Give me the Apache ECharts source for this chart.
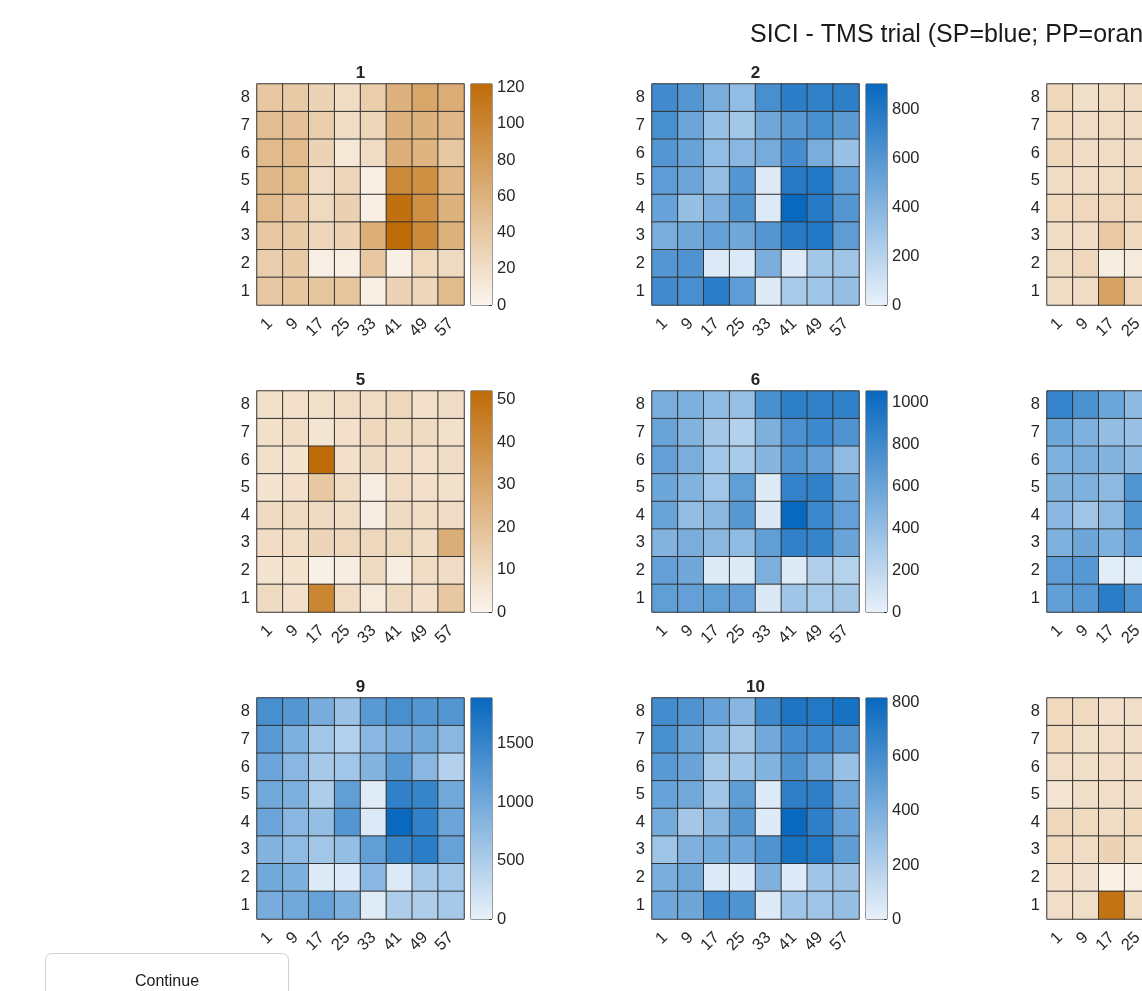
<html>
<head>
<meta charset="utf-8">
<title>SICI - TMS trial</title>
<script src="https://cdn.jsdelivr.net/npm/echarts@6/dist/echarts.min.js"></script>
<style>
  body { margin: 0; background: #fff; overflow: hidden; }
  #main { width: 1420px; height: 991px; }
</style>
</head>
<body>
<div id="main"></div>
<script type="text/javascript">
var xLabels = ['1', '9', '17', '25', '33', '41', '49', '57'];
var yLabels = ['1', '2', '3', '4', '5', '6', '7', '8'];

// rows written top (8) to bottom (1), columns 1..57
var panel1 = [
  [40, 38, 30, 22, 35, 60, 70, 65],
  [50, 45, 35, 22, 28, 60, 60, 55],
  [52, 52, 30, 12, 22, 62, 58, 40],
  [55, 50, 22, 28, 5, 95, 90, 55],
  [52, 40, 25, 32, 6, 118, 90, 60],
  [40, 38, 28, 30, 62, 122, 95, 60],
  [35, 38, 6, 6, 40, 5, 25, 25],
  [40, 42, 42, 42, 6, 30, 28, 52]
];
var panel2 = [
  [680, 600, 450, 350, 650, 760, 740, 750],
  [650, 500, 320, 280, 480, 580, 650, 570],
  [600, 520, 350, 380, 460, 660, 450, 320],
  [560, 500, 330, 600, 40, 780, 800, 550],
  [520, 330, 420, 620, 50, 900, 780, 600],
  [450, 480, 530, 480, 600, 780, 800, 560],
  [600, 620, 50, 50, 440, 50, 280, 300],
  [680, 650, 760, 560, 40, 260, 300, 330]
];
var panel3 = [
  [11, 8, 9, 9, 10, 12, 11, 10],
  [10, 9, 9, 9, 11, 10, 10, 9],
  [11, 9, 9, 9, 10, 11, 10, 10],
  [9, 9, 9, 11, 6, 12, 11, 10],
  [10, 11, 11, 11, 6, 13, 12, 10],
  [9, 9, 16, 10, 11, 12, 11, 14],
  [9, 11, 3, 4, 10, 4, 9, 10],
  [9, 9, 30, 11, 5, 10, 9, 13]
];
var panel5 = [
  [8, 8, 8, 9, 9, 11, 8, 9],
  [8, 9, 6, 8, 11, 10, 10, 8],
  [8, 7, 52, 8, 10, 9, 8, 9],
  [7, 8, 17, 9, 3, 9, 8, 8],
  [10, 10, 10, 9, 3, 10, 9, 9],
  [9, 9, 12, 11, 11, 11, 9, 27],
  [7, 7, 2, 3, 10, 3, 9, 9],
  [10, 8, 42, 9, 4, 10, 8, 17]
];
var panel6 = [
  [520, 500, 420, 380, 750, 880, 860, 860],
  [600, 480, 320, 250, 500, 740, 800, 720],
  [620, 520, 330, 300, 460, 700, 620, 420],
  [580, 480, 330, 640, 50, 850, 860, 580],
  [600, 400, 440, 680, 60, 1050, 820, 620],
  [480, 520, 440, 420, 640, 860, 840, 600],
  [620, 560, 50, 50, 500, 50, 260, 240],
  [640, 620, 640, 620, 60, 340, 300, 320]
];
var panel7 = [
  [800, 700, 550, 400, 650, 750, 720, 740],
  [550, 470, 380, 350, 480, 600, 620, 560],
  [470, 500, 450, 400, 460, 650, 480, 380],
  [460, 470, 400, 680, 60, 800, 780, 560],
  [420, 320, 400, 680, 60, 950, 760, 580],
  [470, 550, 470, 600, 620, 780, 800, 560],
  [620, 650, 30, 30, 450, 40, 300, 320],
  [600, 650, 850, 700, 50, 300, 320, 340]
];
var panel9 = [
  [1350, 1250, 950, 650, 1200, 1350, 1250, 1250],
  [1200, 900, 600, 450, 800, 950, 1000, 800],
  [1050, 800, 550, 600, 850, 1200, 800, 450],
  [1000, 900, 500, 1150, 80, 1550, 1500, 1000],
  [1050, 800, 700, 1250, 100, 1880, 1550, 1050],
  [850, 750, 600, 700, 1150, 1500, 1600, 1100],
  [1000, 900, 100, 100, 800, 100, 550, 600],
  [950, 1000, 1100, 900, 80, 500, 500, 550]
];
var panel10 = [
  [600, 560, 470, 350, 620, 740, 720, 760],
  [580, 470, 330, 250, 430, 600, 620, 560],
  [520, 460, 240, 260, 370, 560, 430, 290],
  [470, 430, 260, 500, 40, 680, 680, 440],
  [420, 250, 340, 530, 40, 815, 680, 470],
  [270, 380, 420, 440, 560, 760, 720, 500],
  [400, 440, 40, 40, 380, 40, 260, 280],
  [440, 450, 600, 560, 40, 260, 270, 300]
];
var panel11 = [
  [12, 12, 9, 10, 11, 13, 12, 11],
  [12, 10, 10, 10, 11, 11, 11, 10],
  [10, 10, 10, 10, 10, 12, 10, 10],
  [7, 10, 10, 10, 6, 12, 11, 10],
  [13, 12, 11, 12, 6, 13, 12, 11],
  [12, 11, 15, 11, 12, 12, 11, 15],
  [9, 9, 2, 3, 10, 3, 9, 10],
  [10, 10, 57, 11, 5, 10, 9, 14]
];

var panels = [panel1, panel2, panel3, panel5, panel6, panel7, panel9, panel10, panel11];
var panelTitles = ['1', '2', '3', '5', '6', '7', '9', '10', '11'];
var panelMax = [122, 905, 50, 52, 1055, 1000, 1890, 818, 60];
var tickStep = [20, 200, 10, 10, 200, 200, 500, 200, 10];
var panelKind = ['PP', 'SP', 'PP', 'PP', 'SP', 'SP', 'SP', 'SP', 'PP'];

var ppColors = ['#FBF5EE', '#BF6C08'];
var spColors = ['#E8F1FA', '#0868BE'];

var colLeft = [257, 652, 1047];
var rowTop = [84, 391, 698];
var plotW = 207, plotH = 221;
var cbGap = 214, cbW = 21;
var txt = '#262626';
var fontName = 'Liberation Sans';
var fs = 16.5;

var myChart = echarts.init(document.getElementById('main'));

var grid = [], xAxis = [], yAxis = [], series = [], visualMap = [], graphic = [];

for (var p = 0; p < panels.length; p++) {
  var gx = colLeft[p % 3], gy = rowTop[Math.floor(p / 3)];
  var colors = panelKind[p] == 'SP' ? spColors : ppColors;

  var cells = [];
  for (var r = 0; r < 8; r++) {
    for (var c = 0; c < 8; c++) {
      cells.push([c, 7 - r, panels[p][r][c]]);
    }
  }

  // heatmap
  grid.push({ left: gx, top: gy, width: plotW, height: plotH });
  xAxis.push({
    type: 'category', gridIndex: grid.length - 1, data: xLabels,
    axisLine: { show: false }, axisTick: { show: false }, splitArea: { show: false },
    axisLabel: { rotate: 45, interval: 0, margin: 16, color: txt, fontSize: fs, fontFamily: fontName }
  });
  yAxis.push({
    type: 'category', gridIndex: grid.length - 1, data: yLabels,
    axisLine: { show: false }, axisTick: { show: false }, splitArea: { show: false },
    axisLabel: { margin: 7, color: txt, fontSize: fs, fontFamily: fontName }
  });
  series.push({
    type: 'heatmap', xAxisIndex: xAxis.length - 1, yAxisIndex: yAxis.length - 1,
    data: cells, silent: true,
    itemStyle: { borderColor: '#333333', borderWidth: 1 },
    emphasis: { disabled: true }
  });
  visualMap.push({
    type: 'continuous', show: false, seriesIndex: series.length - 1,
    min: 0, max: panelMax[p], inRange: { color: colors.slice() }
  });

  // colorbar
  grid.push({ left: gx + cbGap, top: gy, width: cbW, height: plotH, show: true, borderColor: '#333333', borderWidth: 1 });
  xAxis.push({ type: 'category', gridIndex: grid.length - 1, data: [''], show: false });
  yAxis.push({
    type: 'value', gridIndex: grid.length - 1, position: 'right',
    min: 0, max: panelMax[p], interval: tickStep[p],
    axisLine: { show: false }, splitLine: { show: false },
    axisTick: { show: true, inside: true, length: 3, lineStyle: { color: '#333333' } },
    axisLabel: {
      margin: 5, color: txt, fontSize: fs, fontFamily: fontName, showMaxLabel: false,
      formatter: function (v) { return String(v); }
    }
  });
  series.push({
    type: 'bar', xAxisIndex: xAxis.length - 1, yAxisIndex: yAxis.length - 1,
    data: [panelMax[p]], barWidth: '100%', silent: true,
    itemStyle: { color: new echarts.graphic.LinearGradient(0, 1, 0, 0, [
      { offset: 0, color: colors[0] }, { offset: 1, color: colors[1] }
    ]) }
  });

  graphic.push({
    type: 'text', x: gx + plotW / 2, y: gy - 11,
    style: { text: panelTitles[p], fill: txt, font: 'bold 17px ' + fontName, textAlign: 'center', textVerticalAlign: 'middle' }
  });
}

graphic.push({
  type: 'text', x: 750, y: 35,
  style: { text: 'SICI - TMS trial (SP=blue; PP=orange)', fill: '#1a1a1a', font: '25px ' + fontName, textAlign: 'left', textVerticalAlign: 'middle' }
});
graphic.push({
  type: 'rect', shape: { x: 45.5, y: 953.5, width: 243, height: 60, r: 6 },
  style: { fill: '#ffffff', stroke: '#d2d2d2', lineWidth: 1 }
});
graphic.push({
  type: 'text', x: 167, y: 982,
  style: { text: 'Continue', fill: '#1a1a1a', font: '16px ' + fontName, textAlign: 'center', textVerticalAlign: 'middle' }
});

var option = {
  animation: false,
  grid: grid,
  xAxis: xAxis,
  yAxis: yAxis,
  visualMap: visualMap,
  series: series,
  graphic: graphic
};
myChart.setOption(option);
</script>
</body>
</html>
